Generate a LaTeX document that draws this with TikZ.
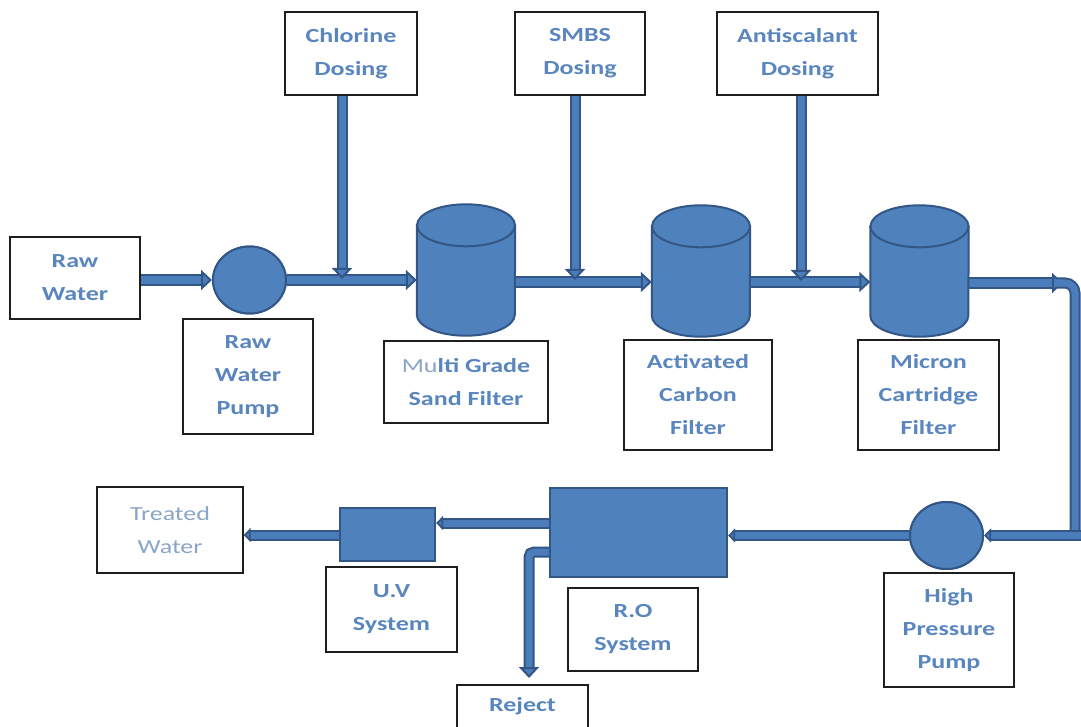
\documentclass[tikz,border=0pt]{standalone}
\usepackage{fontspec}
\setmainfont{Carlito}[FakeStretch=1.3]
\usetikzlibrary{arrows.meta,calc,shapes.geometric}
\definecolor{pipeblue}{HTML}{4B7DBA}
\definecolor{pipedark}{HTML}{325685}
\definecolor{tankblue}{HTML}{4F81BD}
\definecolor{txt}{HTML}{5A86C0}
\definecolor{txtlight}{HTML}{8AA5C8}
\definecolor{boxline}{HTML}{1E1E1E}
\tikzset{
  lbl/.style={draw=boxline, line width=1.3pt, fill=white, align=center, inner sep=0pt,
    font=\bfseries\fontsize{20}{33}\selectfont, text=txt},
  pipeplain/.style={draw=pipedark, double=pipeblue, line width=2pt, double distance=7pt},
  pipe/.style={pipeplain, -{Triangle[length=11pt,width=20pt,fill=pipeblue]}},
  pipesm/.style={pipeplain, -{Triangle[length=7pt,width=14pt,fill=pipeblue]}},
  tankbox/.style={inner sep=0pt, minimum width=98pt, minimum height=131pt},
  tankfill/.style={fill=tankblue, draw=pipedark, line width=2pt},
  pumpc/.style={ellipse, fill=tankblue, draw=pipedark, line width=2pt, inner sep=0pt},
  unitbox/.style={fill=tankblue, draw=pipedark, line width=2.2pt, inner sep=0pt},
}
\newcommand\drawtank[1]{%
  \filldraw[tankfill] ($(#1.north west)+(0,21)$) -- ($(#1.south west)+(0,-21)$)
    arc[start angle=180,end angle=0,x radius=49,y radius=21]
    -- ($(#1.north east)+(0,21)$) -- cycle;
  \filldraw[tankfill] ($(#1.north)+(0,21)$) ellipse[x radius=49,y radius=21];
}
\begin{document}
\begin{tikzpicture}[x=1pt,y=1pt,yscale=-1]
\clip (0,0) rectangle (1081,727);
\fill[white] (0,0) rectangle (1081,727);

% label boxes
\node[lbl, minimum width=130pt, minimum height=82pt] (rw) at (75,278) {Raw\\Water};
\node[lbl, minimum width=130pt, minimum height=115pt] (rwpl) at (248,376.5) {Raw\\Water\\Pump};
\node[lbl, minimum width=132pt, minimum height=83pt] (chl) at (351,53.5) {Chlorine\\Dosing};
\node[lbl, minimum width=130pt, minimum height=83pt] (smbs) at (580,53.5) {SMBS\\Dosing};
\node[lbl, minimum width=161pt, minimum height=83pt] (anti) at (797.5,53.5) {Antiscalant\\Dosing};
\node[lbl, minimum width=164pt, minimum height=82pt] (mgl) at (466,382) {{\mdseries\color{txtlight}Mu}lti Grade\\Sand Filter};
\node[lbl, minimum width=148pt, minimum height=110pt] (acl) at (698,395) {Activated\\Carbon\\Filter};
\node[lbl, minimum width=141pt, minimum height=110pt] (mcl) at (928.5,395) {Micron\\Cartridge\\Filter};
\node[lbl, minimum width=130pt, minimum height=114pt] (hpl) at (949,630) {High\\Pressure\\Pump};
\node[lbl, minimum width=130pt, minimum height=83pt] (rol) at (633,629.5) {R.O\\System};
\node[lbl, minimum width=131pt, minimum height=85pt] (uvl) at (391.5,609.5) {U.V\\System};
\node[lbl, minimum width=146pt, minimum height=86pt, font=\fontsize{20}{33}\selectfont, text=txtlight] (tw) at (170,530) {Treated\\Water};
\node[lbl, minimum width=131pt, minimum height=60pt] (rej) at (522.5,715) {};
\node[font=\bfseries\fontsize{20}{33}\selectfont, text=txt, inner sep=0pt] (rejt) at (522.5,706) {Reject};

% equipment
\node[pumpc, minimum width=73pt, minimum height=67pt] (pump) at (249.5,280) {};
\node[pumpc, minimum width=73pt, minimum height=67pt] (hp) at (946.5,535.5) {};
\node[tankbox] (sand) at (466,270) {};
\node[tankbox] (carbon) at (701,271) {};
\node[tankbox] (micron) at (919.5,271) {};
\node[unitbox, minimum width=177pt, minimum height=89pt] (ro) at (638.5,532.5) {};
\node[unitbox, minimum width=95pt, minimum height=53pt] (uv) at (387.5,534.5) {};

% junction coordinates
\coordinate (j1) at (342,279);
\coordinate (j2) at (575,280);
\coordinate (j3) at (801,281);
\coordinate (m1) at (0,280);
\coordinate (m2) at (0,282);
\coordinate (m3) at (0,283);
\coordinate (c1) at (1063,283);
\coordinate (c2) at (1056,283);
\coordinate (c3) at (1075,283);
\coordinate (c4) at (1075,530);
\coordinate (c5) at (1081,535.5);
\coordinate (r1) at (0,523);
\coordinate (r2) at (0,535);
\coordinate (r3) at (0,552);
\coordinate (rj) at (529,678);

% pipes
\draw[pipe] (rw.east |- m1) -- (pump.west);
\draw[pipe] (pump.east) -- (sand.west |- m1);
\draw[pipe] (sand.east |- m2) -- (carbon.west |- m2);
\draw[pipe] (carbon.east |- m2) -- (micron.west |- m2);
\draw[pipe] (micron.east |- m3) -- (c1);
\draw[pipeplain, rounded corners=10pt] (c2) -- (c3) -- (c4);
\draw[pipesm] (c5) -- (hp.east);
\draw[pipesm] (hp.west) -- (ro.east |- hp.west);
\draw[pipesm] (ro.west |- r1) -- (uv.east |- r1);
\draw[pipesm] (uv.west |- r2) -- (tw.east |- r2);
\draw[pipe, rounded corners=5pt] (ro.west |- r3) -| (rj);
\draw[pipe] (chl.south -| j1) -- (j1);
\draw[pipe] (smbs.south -| j2) -- (j2);
\draw[pipe] (anti.south -| j3) -- (j3);

% equipment drawn over pipe ends
\drawtank{sand}
\drawtank{carbon}
\drawtank{micron}
\node[pumpc, minimum width=73pt, minimum height=67pt] at (pump) {};
\node[pumpc, minimum width=73pt, minimum height=67pt] at (hp) {};
\node[unitbox, minimum width=177pt, minimum height=89pt] at (ro) {};
\node[unitbox, minimum width=95pt, minimum height=53pt] at (uv) {};
\end{tikzpicture}
\end{document}
